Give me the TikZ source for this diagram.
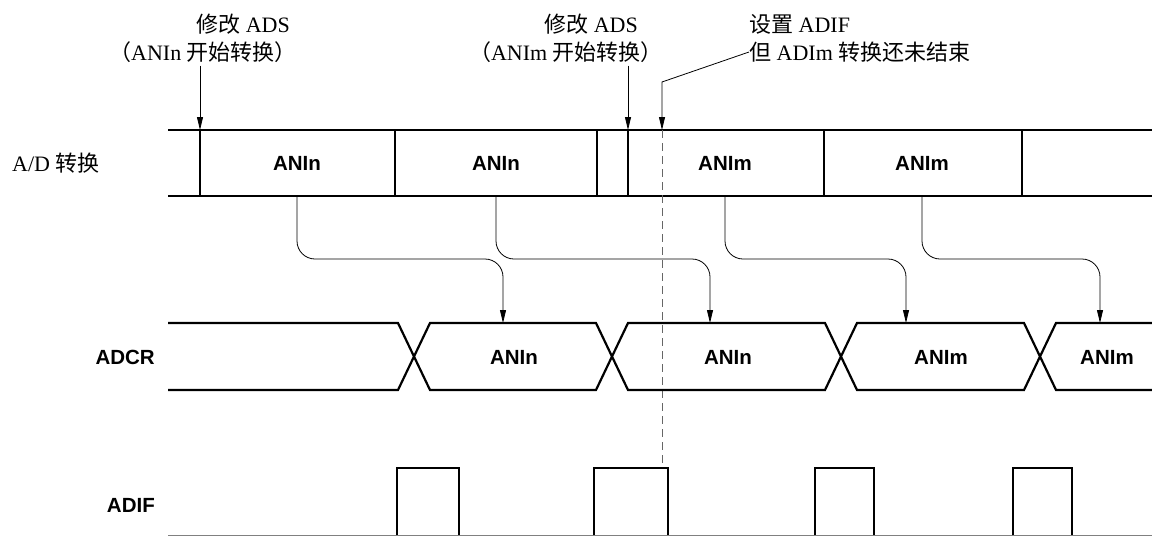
\documentclass[tikz,border=0pt]{standalone}
\usepackage{fontspec}
\setmainfont{Liberation Serif}
\newfontfamily\cjk{Noto Sans CJK SC}
\newfontfamily\hel{Liberation Sans}
\usetikzlibrary{arrows.meta}

\tikzset{
  lbl/.style={inner sep=0pt, font=\fontsize{22}{26}\selectfont},
  sig/.style={inner sep=0pt, font=\hel\bfseries\fontsize{20.5}{24}\selectfont},
  bus/.style={line width=2.2pt},
  tick/.style={line width=1.2pt},
  pulse/.style={line width=2pt},
  pointer/.style={line width=0.8pt, -{Triangle[length=13pt,width=6pt]}},
  flow/.style={line width=0.8pt, rounded corners=18pt, -{Triangle[length=13pt,width=6pt]}},
}

\begin{document}
\begin{tikzpicture}[x=1pt, y=-1pt]
        \useasboundingbox (0,0) rectangle (1152,536);

        % Labels on the left
        \node[lbl, anchor=west] (adlbl) at (12,163) {A/D {\cjk 转换}};
        \node[sig, anchor=east] (crlbl) at (155,357) {ADCR};
        \node[sig, anchor=east] (iflbl) at (155,505) {ADIF};

        % Notes at the top
        \node[lbl, anchor=east] (ads1) at (290,24) {{\cjk 修改} ADS};
        \node[lbl, anchor=east] (ani1) at (297,52) {{\cjk （}ANIn {\cjk 开始转换）}};
        \node[lbl, anchor=east] (ads2) at (638,24) {{\cjk 修改} ADS};
        \node[lbl, anchor=east] (ani2) at (663,52) {{\cjk （}ANIm {\cjk 开始转换）}};
        \node[lbl, anchor=west] (set) at (749,24) {{\cjk 设置} ADIF};
        \node[lbl, anchor=west] (adim) at (749,52) {{\cjk 但} ADIm {\cjk 转换还未结束}};

        \coordinate (hit1) at (200,130);
        \coordinate (hit2) at (628,130);
        \coordinate (hit3) at (662,130);
        \coordinate (bend) at (662,82);
        \coordinate (flag) at (662,468);

        % A/D conversion row
        \draw[bus] (168,130) -- (1152,130);
        \draw[bus] (168,196) -- (1152,196);
        \foreach \x in {200,395,597,628,824,1022}
            \draw[tick] (\x,130) -- (\x,196);

        \node[sig] (ad1) at (297,163) {ANIn};
        \node[sig] (ad2) at (496,163) {ANIn};
        \node[sig] (ad3) at (725,163) {ANIm};
        \node[sig] (ad4) at (922,163) {ANIm};

        % Arrows from the notes
        \draw[pointer] (ani1.south -| hit1) ++(0,3) -- (hit1);
        \draw[pointer] (ani2.south -| hit2) ++(0,3) -- (hit2);
        \draw[pointer] (adim.west) -- (bend) -- (hit3);
        \draw[dashed, gray!80!black, line width=0.9pt, dash pattern=on 8pt off 5pt] (hit3) -- (flag);

        % ADCR row
        \draw[bus] (168,323) -- (398,323) -- (430,390) -- (596,390) -- (628,323) -- (825,323) -- (857,390) -- (1024,390) -- (1056,323) -- (1152,323);
        \draw[bus] (168,390) -- (398,390) -- (430,323) -- (596,323) -- (628,390) -- (825,390) -- (857,323) -- (1024,323) -- (1056,390) -- (1152,390);

        \node[sig] (cr1) at (514,357) {ANIn};
        \node[sig] (cr2) at (728,357) {ANIn};
        \node[sig] (cr3) at (941,357) {ANIm};
        \node[sig] (cr4) at (1107,357) {ANIm};

        % Transfers from A/D to ADCR
        \coordinate (tgt1) at (503,323);
        \coordinate (tgt2) at (710,323);
        \coordinate (tgt3) at (906,323);
        \coordinate (tgt4) at (1100,323);
        \foreach \i in {1,2,3,4}
            \draw[flow] (ad\i |- 0,196) |- (tgt\i |- 0,259) -- (tgt\i);

        % ADIF row
        \draw[gray, line width=1pt] (168,535) -- (1152,535);
        \foreach \a/\b in {397/459, 594/668, 815/874, 1013/1072}
            \draw[pulse] (\a,535) -- (\a,468) -- (\b,468) -- (\b,535);
    \end{tikzpicture}
\end{document}
